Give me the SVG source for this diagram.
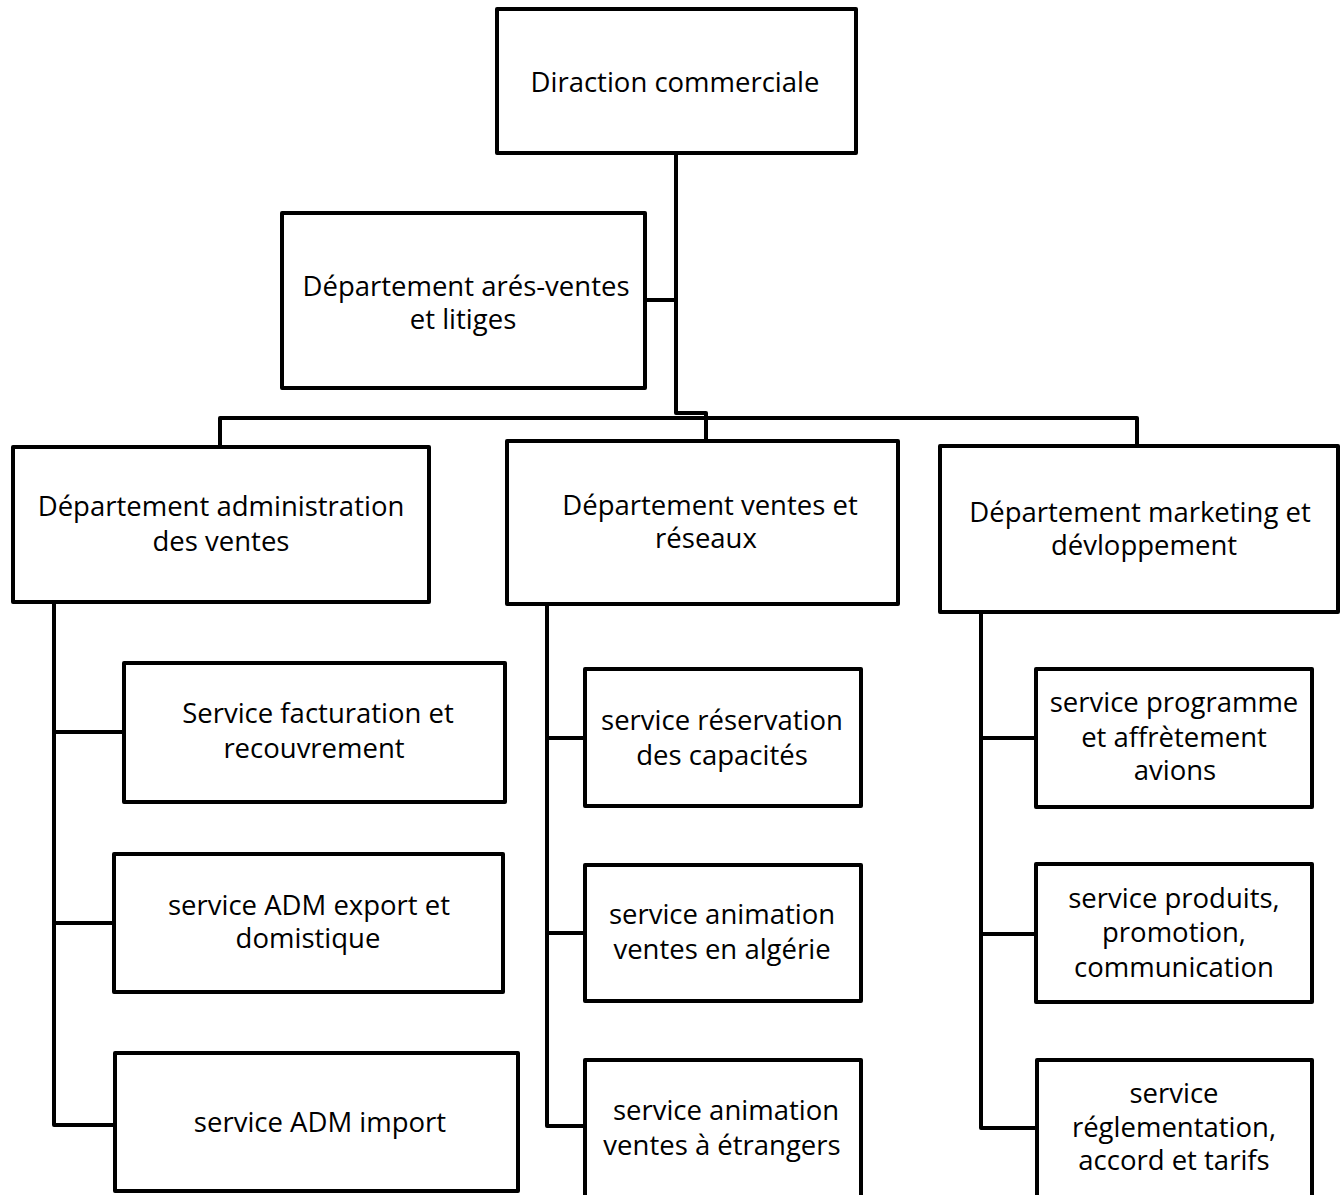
<svg xmlns="http://www.w3.org/2000/svg" width="1342" height="1195" viewBox="0 0 1342 1195">
<style>
.box{fill:#fff;stroke:#000;stroke-width:4;stroke-linejoin:round}
.ln{fill:none;stroke:#000;stroke-width:4;stroke-linejoin:round}
text{font-family:"Open Sans","Noto Sans","Liberation Sans",sans-serif;font-size:27.5px;fill:#000;text-anchor:middle}
</style>
<rect width="1342" height="1195" fill="#fff"/>
<g id="connectors">
<path class="ln" d="M676,155 V413 H706 V441"/>
<path class="ln" d="M645,300 H676"/>
<path class="ln" d="M220,447 V418 H1137 V446"/>
<path class="ln" d="M54,602 V1125 H115 M54,732 H124 M54,923 H114"/>
<path class="ln" d="M547,604 V1126 H585 M547,738 H585 M547,933 H585"/>
<path class="ln" d="M981,612 V1128 H1037 M981,738 H1036 M981,934 H1036"/>
</g>
<g id="n-direction"><rect class="box" x="497" y="9" width="359" height="144"/><text x="675" y="92">Diraction commerciale</text></g>
<g id="n-apres-ventes"><rect class="box" x="282" y="213" width="363" height="175"/><text x="466" y="296">Département arés-ventes</text><text x="463" y="329">et litiges</text></g>
<g id="n-adm-ventes"><rect class="box" x="13" y="447" width="416" height="155"/><text x="221" y="516">Département administration</text><text x="221" y="551">des ventes</text></g>
<g id="n-ventes-reseaux"><rect class="box" x="507" y="441" width="391" height="163"/><text x="710" y="515">Département ventes et</text><text x="706" y="548">réseaux</text></g>
<g id="n-marketing"><rect class="box" x="940" y="446" width="398" height="166"/><text x="1140" y="522">Département marketing et</text><text x="1144" y="555">dévloppement</text></g>
<g id="n-facturation"><rect class="box" x="124" y="663" width="381" height="139"/><text x="318" y="723">Service facturation et</text><text x="314" y="758">recouvrement</text></g>
<g id="n-export"><rect class="box" x="114" y="854" width="389" height="138"/><text x="309" y="915">service ADM export et</text><text x="308" y="948">domistique</text></g>
<g id="n-import"><rect class="box" x="115" y="1053" width="403" height="138"/><text x="320" y="1132">service ADM import</text></g>
<g id="n-reservation"><rect class="box" x="585" y="669" width="276" height="137"/><text x="722" y="730">service réservation</text><text x="722" y="765">des capacités</text></g>
<g id="n-algerie"><rect class="box" x="585" y="865" width="276" height="136"/><text x="722" y="924">service animation</text><text x="722" y="959">ventes en algérie</text></g>
<g id="n-etrangers"><rect class="box" x="585" y="1060" width="276" height="145"/><text x="726" y="1120">service animation</text><text x="722" y="1155">ventes à étrangers</text></g>
<g id="n-programme"><rect class="box" x="1036" y="669" width="276" height="138"/><text x="1174" y="712">service programme</text><text x="1174" y="747">et affrètement</text><text x="1175" y="780">avions</text></g>
<g id="n-produits"><rect class="box" x="1036" y="864" width="276" height="138"/><text x="1174" y="908">service produits,</text><text x="1174" y="942">promotion,</text><text x="1174" y="977">communication</text></g>
<g id="n-reglementation"><rect class="box" x="1037" y="1060" width="275" height="145"/><text x="1174" y="1103">service</text><text x="1174" y="1137">réglementation,</text><text x="1174" y="1170">accord et tarifs</text></g>
</svg>
